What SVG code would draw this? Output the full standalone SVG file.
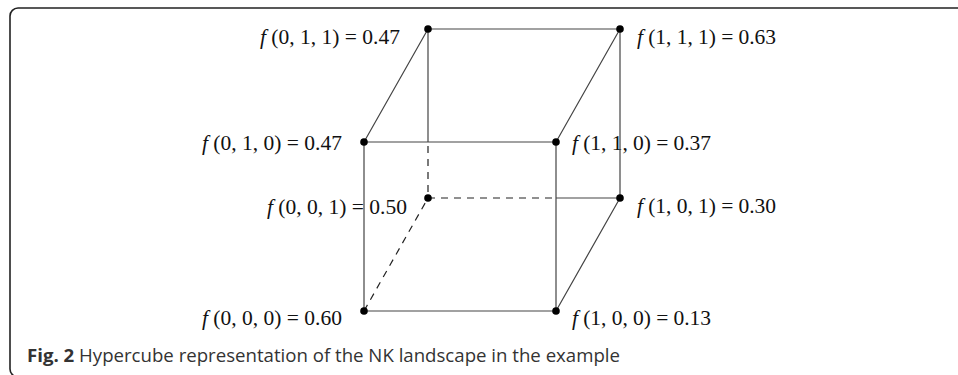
<svg xmlns="http://www.w3.org/2000/svg" width="958" height="375" viewBox="0 0 958 375">
<style>
.lbl{font-family:"Liberation Serif","Times New Roman",serif;font-size:21.5px;fill:#111}
.e{stroke:#444;stroke-width:1.2;fill:none}
.d{stroke:#222;stroke-width:1.2;fill:none;stroke-dasharray:7,6}
.dot{fill:#000}
.cap{font-family:"Open Sans","Noto Sans",sans-serif;font-size:18.5px;fill:#333}
</style>
<rect x="10" y="8" width="1000" height="369" rx="8" fill="#fff" stroke="#222" stroke-width="1.6"/>
<g id="connectors">
<path class="e" d="M364 142H556V311H364Z"/>
<path class="e" d="M428 29H620V198"/>
<path class="e" d="M428 29V142"/>
<path class="d" d="M428 146V198H556"/>
<path class="e" d="M556 198H620"/>
<path class="d" d="M364 311L428 198"/>
<path class="e" d="M364 142L428 29M556 142L620 29M556 311L620 198"/>
</g>
<g id="n011"><circle class="dot" cx="428" cy="29" r="3.8"/><text class="lbl" x="260" y="44" textLength="140" lengthAdjust="spacing"><tspan font-style="italic">f</tspan> (0, 1, 1) = 0.47</text></g>
<g id="n111"><circle class="dot" cx="620" cy="29" r="3.8"/><text class="lbl" x="637" y="44" textLength="139" lengthAdjust="spacing"><tspan font-style="italic">f</tspan> (1, 1, 1) = 0.63</text></g>
<g id="n010"><circle class="dot" cx="364" cy="142" r="3.8"/><text class="lbl" x="202" y="150" textLength="140" lengthAdjust="spacing"><tspan font-style="italic">f</tspan> (0, 1, 0) = 0.47</text></g>
<g id="n110"><circle class="dot" cx="556" cy="142" r="3.8"/><text class="lbl" x="572" y="150" textLength="139" lengthAdjust="spacing"><tspan font-style="italic">f</tspan> (1, 1, 0) = 0.37</text></g>
<g id="n001"><circle class="dot" cx="428" cy="198" r="3.8"/><text class="lbl" x="267" y="214" textLength="140" lengthAdjust="spacing"><tspan font-style="italic">f</tspan> (0, 0, 1) = 0.50</text></g>
<g id="n101"><circle class="dot" cx="620" cy="198" r="3.8"/><text class="lbl" x="637" y="213" textLength="139" lengthAdjust="spacing"><tspan font-style="italic">f</tspan> (1, 0, 1) = 0.30</text></g>
<g id="n000"><circle class="dot" cx="364" cy="311" r="3.8"/><text class="lbl" x="202" y="325" textLength="140" lengthAdjust="spacing"><tspan font-style="italic">f</tspan> (0, 0, 0) = 0.60</text></g>
<g id="n100"><circle class="dot" cx="556" cy="311" r="3.8"/><text class="lbl" x="572" y="325" textLength="139" lengthAdjust="spacing"><tspan font-style="italic">f</tspan> (1, 0, 0) = 0.13</text></g>
<text class="cap" x="27" y="362" textLength="593" lengthAdjust="spacingAndGlyphs"><tspan font-weight="bold">Fig. 2</tspan> Hypercube representation of the NK landscape in the example</text>
</svg>
